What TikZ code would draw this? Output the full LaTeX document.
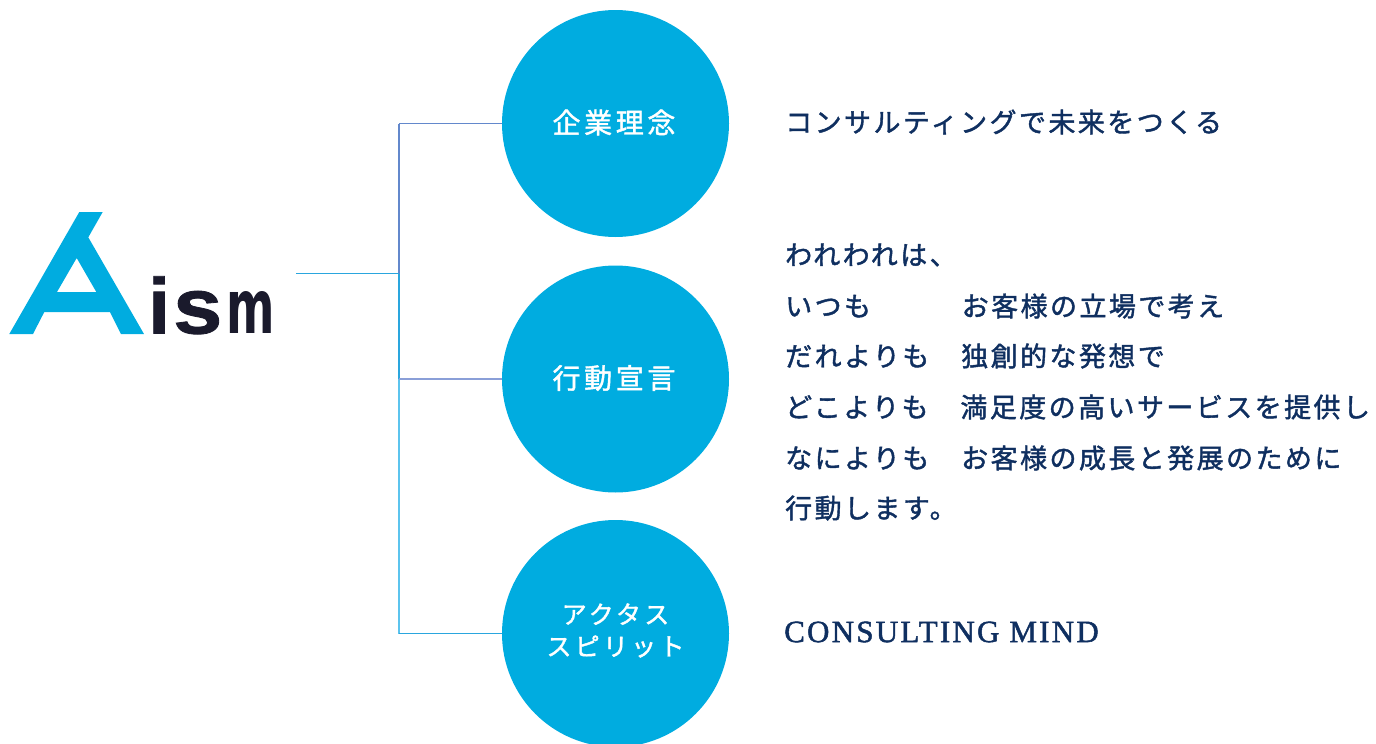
\documentclass[tikz,border=0pt]{standalone}
\usepackage{fontspec}
\setmainfont{Liberation Serif}
\newfontfamily\jpbody[LetterSpace=9,FakeBold=1.5]{Noto Sans CJK JP}
\newfontfamily\jpcirc[LetterSpace=13,FakeBold=1.5]{Noto Sans CJK JP}
\newfontfamily\latinbody[LetterSpace=7.2,FakeBold=1.5]{Liberation Serif}
\newfontfamily\logofont[FakeBold=1]{Liberation Sans}
\newfontfamily\logofontm{DejaVu Sans}
\definecolor{discblue}{HTML}{00ACE0}
\definecolor{ink}{HTML}{0F2F60}
\definecolor{logoink}{HTML}{1A1A2C}
\definecolor{cnA}{HTML}{6388CC}
\definecolor{cnB}{HTML}{2AA6DE}
\definecolor{cnC}{HTML}{8A9FD8}
\definecolor{cnD}{HTML}{5CC4EE}
\tikzset{
  x=1pt,y=-1pt,
  disc/.style={circle,fill=discblue,minimum size=227pt,inner sep=0pt},
  disclabel/.style={align=center,inner sep=0pt,text=white},
  bodytext/.style={anchor=west,inner sep=0pt,text=ink,font=\jpbody\fontsize{27}{27}\selectfont},
}
% connectors as thin filled bars between named points
\newcommand{\connh}[3]{\fill[#1] ([yshift=.6pt]#2) rectangle ([yshift=-.6pt]#3);}
\newcommand{\connv}[3]{\fill[#1] ([xshift=-.6pt]#2) rectangle ([xshift=.6pt]#3);}
\begin{document}
\begin{tikzpicture}
\useasboundingbox (0,0) rectangle (1376,744);
\coordinate (stub) at (296,273.5);
\coordinate (joint) at (399,273.5);
\coordinate (k1) at (399,123.5);
\coordinate (k2) at (399,379);
\coordinate (k3) at (399,633.5);
% discs
\node[disc] (d1) at (615.5,123.5) {};
\node[disc] (d2) at (615.5,379) {};
\node[disc] (d3) at (615.5,633.5) {};
% connectors
\connv{cnA}{k1}{joint}
\connv{cnB}{joint}{k2}
\connv{cnD}{k2}{k3}
\connh{cnB}{stub}{joint}
\connh{cnA}{k1}{d1.west}
\connh{cnC}{k2}{d2.west}
\connh{cnB}{k3}{d3.west}
% logo
\fill[discblue,even odd rule] (79.3,212)--(102.7,212)--(88.3,237.3)--(144,334)--(121,334)--(110,312)--(44.3,312)--(33,334)--(9.3,334)--cycle
 (76.7,258)--(96.3,292)--(57,292)--cycle;
\node[anchor=base west,inner sep=0pt,text=logoink,font=\logofont\bfseries\fontsize{79}{79}\selectfont] (ism) at (148,333.5) {i\hspace{3pt}\scalebox{1.12}[1]{s}\hspace{4pt}\scalebox{.62}[1]{\logofontm\bfseries\fontsize{75}{75}\selectfont m}};
% disc labels
\node[disclabel,font=\jpcirc\fontsize{28}{28}\selectfont] (l1) at (614,122.5) {企業理念};
\node[disclabel,font=\jpcirc\fontsize{28}{28}\selectfont] (l2) at (614,378) {行動宣言};
\node[disclabel,font=\jpcirc\fontsize{25}{32}\selectfont] (l3) at (615.5,630.5) {アクタス\\スピリット};
% texts
\node[bodytext] (t1) at (785,122) {コンサルティングで未来をつくる};
\node[bodytext] (t2) at (785,255) {われわれは、};
\node[bodytext] (t3) at (785,306) {いつも　　　お客様の立場で考え};
\node[bodytext] (t4) at (785,356) {だれよりも　独創的な発想で};
\node[bodytext] (t5) at (785,407) {どこよりも　満足度の高いサービスを提供し};
\node[bodytext] (t6) at (785,458) {なによりも　お客様の成長と発展のために};
\node[bodytext] (t7) at (785,508) {行動します。};
\node[anchor=west,inner sep=0pt,text=ink,font=\latinbody\fontsize{31}{31}\selectfont] (t8) at (784,632) {CONSULTING MIND};
\end{tikzpicture}
\end{document}
